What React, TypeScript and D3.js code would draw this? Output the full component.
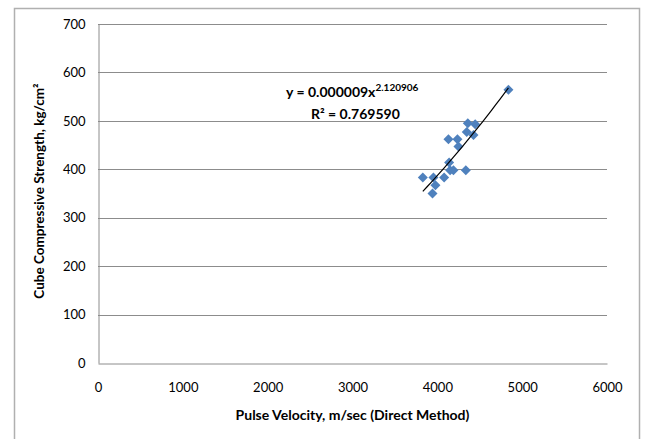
import React, { useRef, useEffect } from 'react';
import { select, scaleLinear, axisBottom, axisLeft, symbol, symbolSquare, range, format } from 'd3';

// pulse velocity (m/sec) vs cube strength (kg/cm2)
const velocity = [4838, 4359, 4446, 4347, 4426, 4131, 4237, 4249, 4139, 4151, 4190, 4336, 3829, 3954, 4080, 3978, 3943];
const strength = [564, 495, 493, 477, 471, 462, 462, 447, 414, 398, 398, 398, 383, 383, 383, 367, 350];
const xTicks = [0, 1000, 2000, 3000, 4000, 5000, 6000];
const yTicks = [0, 100, 200, 300, 400, 500, 600, 700];
const coefText = 'y = 0.000009x';
const expText = '2.120906';
const r2Text = 'R² = 0.769590';

const W = 646;
const H = 439;
const font = 'Lato, "Open Sans", sans-serif';

export default function App() {
  const svgRef = useRef(null);

  useEffect(() => {
    const svg = select(svgRef.current);
    svg.selectAll('*').remove();

    const x = scaleLinear().domain([0, 6000]).range([98, 607]);
    const y = scaleLinear().domain([0, 700]).range([363, 24]);

    // chart border
    svg.append('rect')
      .attr('x', 14.5).attr('y', 8.5)
      .attr('width', 625).attr('height', 440)
      .attr('fill', '#fff').attr('stroke', '#b0b0b0').attr('stroke-width', 1.5);

    // horizontal gridlines
    svg.append('g')
      .selectAll('line')
      .data(yTicks.filter(d => d > 0))
      .join('line')
      .attr('x1', x(0)).attr('x2', x(6000))
      .attr('y1', d => Math.round(y(d)) + 0.5).attr('y2', d => Math.round(y(d)) + 0.5)
      .attr('stroke', '#8c8c8c').attr('stroke-width', 1);

    const xAxis = axisBottom(x).tickValues(xTicks).tickSize(0).tickPadding(19).tickFormat(format('d'));
    const gx = svg.append('g')
      .attr('transform', `translate(0,${Math.round(y(0)) + 0.5})`)
      .call(xAxis);
    gx.select('.domain').attr('stroke', '#8c8c8c');
    gx.selectAll('text').attr('font-family', font).attr('font-size', 13).attr('fill', '#000');

    const yAxis = axisLeft(y).tickValues(yTicks).tickSize(0).tickPadding(13).tickFormat(format('d'));
    const gy = svg.append('g')
      .attr('transform', `translate(${Math.round(x(0)) + 0.5},0)`)
      .call(yAxis);
    gy.select('.domain').attr('stroke', '#8c8c8c');
    gy.selectAll('text').attr('font-family', font).attr('font-size', 13).attr('fill', '#000');

    // power trendline fit in log space, like the spreadsheet does
    const lx = velocity.map(Math.log);
    const ly = strength.map(Math.log);
    const n = lx.length;
    const mx = lx.reduce((a, b) => a + b, 0) / n;
    const my = ly.reduce((a, b) => a + b, 0) / n;
    let sxy = 0, sxx = 0;
    lx.forEach((v, i) => { sxy += (v - mx) * (ly[i] - my); sxx += (v - mx) * (v - mx); });
    const b = sxy / sxx;
    const a = Math.exp(my - b * mx);
    const x0 = Math.min(...velocity);
    const x1 = Math.max(...velocity);
    const pts = range(0, 21).map(i => x0 + (x1 - x0) * i / 20);

    // points: square turned 45 degrees, like the spreadsheet diamond
    const diamond = symbol().type(symbolSquare).size(50);
    svg.append('g')
      .selectAll('path')
      .data(velocity.map((v, i) => [v, strength[i]]))
      .join('path')
      .attr('d', diamond)
      .attr('transform', d => `translate(${x(d[0])},${y(d[1])}) rotate(45)`)
      .attr('fill', '#4f81bd');

    svg.append('path')
      .attr('d', 'M' + pts.map(p => `${x(p)},${y(a * Math.pow(p, b))}`).join('L'))
      .attr('fill', 'none').attr('stroke', '#000').attr('stroke-width', 1.2);

    // equation label
    const eq = svg.append('text')
      .attr('x', 286).attr('y', 97)
      .attr('font-family', font).attr('font-size', 14).attr('font-weight', 'bold');
    eq.append('tspan').text(coefText);
    eq.append('tspan').attr('dy', -6).attr('font-size', 10).text(expText);

    svg.append('text')
      .attr('x', 311).attr('y', 119)
      .attr('font-family', font).attr('font-size', 14).attr('font-weight', 'bold')
      .text(r2Text);

    // axis titles
    svg.append('text')
      .attr('x', x(3000)).attr('y', 420)
      .attr('text-anchor', 'middle')
      .attr('font-family', font).attr('font-size', 14).attr('font-weight', 'bold')
      .text('Pulse Velocity, m/sec (Direct Method)');

    svg.append('text')
      .attr('transform', `translate(44,${y(355)}) rotate(-90)`)
      .attr('text-anchor', 'middle')
      .attr('font-family', font).attr('font-size', 13.5).attr('font-weight', 'bold')
      .text('Cube Compressive  Strength, kg/cm²');
  }, []);

  return (
    <div style={{ position: 'fixed', left: 0, top: 0, width: W, height: H, background: '#fff' }}>
      <svg ref={svgRef} width={W} height={H} />
    </div>
  );
}
